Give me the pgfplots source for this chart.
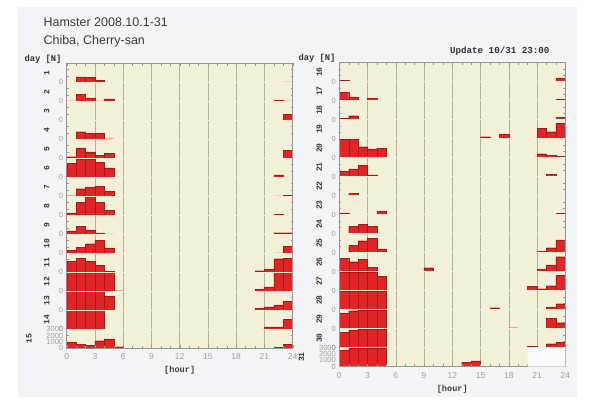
\documentclass[border=0pt]{standalone}
\usepackage{pgfplots}
\usepackage{pgfplotstable}
\pgfplotsset{compat=1.18}
\usepackage{fontspec}
\setmainfont{Liberation Sans}
\setmonofont{Liberation Mono}
\definecolor{cream}{RGB}{243,240,216}
\definecolor{panelbg}{RGB}{243,244,247}
\definecolor{barred}{RGB}{226,36,38}
\definecolor{baredge}{RGB}{165,25,25}
\definecolor{gridc}{RGB}{178,175,160}
\definecolor{framec}{RGB}{150,150,150}
\definecolor{tickc}{RGB}{160,160,160}
\definecolor{titlec}{RGB}{60,60,60}

\pgfplotstableread{
h  d1 d2 d3 d4 d5  d6 d7 d8 d9 d10  d11 d12 d13 d14 d15  d16 d17 d18 d19 d20  d21 d22 d23 d24 d25  d26 d27 d28 d29 d30  d31
0  0 50 0 0 250  2200 100 370 530 470  1770 3000 3000 3000 1000  260 1300 200 0 2870  800 100 290 50 60  2080 3000 3000 2430 2380  2600
1  850 1050 0 1200 1630  2800 1200 2050 1260 950  2180 3000 3000 3000 580  0 600 630 0 2870  1250 370 0 1180 1200  1580 3000 3000 2840 2820  3000
2  800 530 0 900 1000  2800 1370 2950 680 1520  1740 3000 3000 3000 470  40 30 40 80 1740  1820 40 40 1480 1900  1920 3000 3000 3000 3000  3000
3  300 50 0 900 420  2400 1580 2050 210 2050  1100 3000 3000 3000 1200  40 370 0 0 1400  280 0 100 1150 2280  710 3000 3000 3000 3000  3000
4  0 370 0 100 790  1470 790 740 50 840  150 2950 2280 0 1470  0 0 20 0 1470  50 0 550 60 600  0 2230 3000 3000 3000  3000
5  0 0 0 0 0  0 0 0 0 0  0 100 0 0 260  0 0 0 0 0  0 0 0 0 0  0 0 0 0 0  0
6  0 0 0 0 0  0 0 0 0 0  0 0 0 0 0  0 0 0 0 0  0 0 0 0 0  0 0 0 0 0  0
7  0 0 0 0 0  0 0 0 0 0  0 0 0 0 0  0 0 0 0 0  0 0 0 0 0  0 0 0 0 0  0
8  0 0 0 0 0  0 0 0 0 0  20 0 0 0 0  0 0 0 0 0  0 0 0 0 0  0 0 0 0 0  0
9  0 0 0 0 0  0 0 0 0 0  0 0 0 0 0  0 0 0 0 0  0 0 0 0 0  630 0 0 0 0  0
10  0 0 0 0 0  0 0 0 0 0  0 0 0 0 0  0 0 0 0 0  0 0 0 0 0  0 0 0 0 0  0
11  0 0 0 0 0  0 0 0 0 0  0 0 0 0 0  0 0 0 0 0  0 0 0 0 0  0 0 0 0 0  0
12  0 0 0 0 0  0 0 20 0 0  0 0 0 0 0  0 0 0 0 0  0 0 0 0 0  0 0 0 0 0  0
13  0 0 0 0 0  0 0 0 0 0  0 0 0 0 0  0 0 0 0 0  0 0 0 0 20  0 0 0 0 0  740
14  0 0 0 0 0  0 0 0 0 0  0 0 0 0 0  0 0 0 0 0  0 0 0 0 0  0 0 0 0 0  900
15  0 0 0 0 0  0 0 0 0 0  0 0 0 0 0  0 0 0 320 0  0 0 0 0 0  0 0 0 0 0  0
16  0 0 0 0 0  0 0 0 20 0  0 0 0 0 0  0 0 0 0 0  0 0 0 0 0  0 0 310 0 0  0
17  0 20 0 0 0  0 0 0 0 0  0 0 0 0 0  0 0 0 740 0  0 0 0 0 0  0 20 0 0 0  0
18  0 0 0 0 0  0 0 0 0 0  0 0 20 0 0  0 0 0 0 0  0 0 0 0 0  0 0 0 150 0  0
19  0 0 0 0 0  0 0 0 0 0  0 0 0 0 0  0 0 0 0 0  0 0 0 0 0  0 0 0 0 0  0
20  0 0 0 0 30  0 0 0 0 0  250 330 330 0 0  0 0 0 0 80  0 0 0 0 0  40 710 0 0 170  0
21  0 0 0 0 30  0 0 0 0 0  520 680 550 370 40  0 0 0 1650 630  0 0 0 30 210  400 320 80 100 40  0
22  0 200 30 0 30  380 50 120 250 60  2150 3000 840 370 150  50 40 40 1100 380  370 60 40 80 790  1080 790 370 1630 630  0
23  60 50 920 40 1230  40 150 40 250 1120  2200 3000 1420 1550 650  600 260 420 2420 180  0 60 200 0 2020  2370 2420 950 950 820  0
}\hamster

\pgfplotsset{
  base/.style={scale only axis, width=226pt, xmin=0, xmax=24,
    /pgf/number format/assume math mode=true},
  bgaxis/.style={base, ymin=0, ymax=1,
    axis background/.style={fill=cream},
    axis line style={draw=none},
    xtick={0,3,...,24}, xmajorgrids,
    major grid style={gridc, line width=0.5pt},
    ytick=\empty, major tick length=0pt,
    xticklabel style={font=\fontsize{8.5}{8.5}\selectfont, text=tickc, yshift=-2pt},
    xlabel={[hour]},
    xlabel style={font=\ttfamily\bfseries\fontsize{8.6}{9}\selectfont, text=black!75, yshift=0pt}},
  ovaxis/.style={base,
    axis line style={framec, line width=0.5pt},
    xtick={0,3,...,24}, minor xtick={0,1,...,24}, xticklabels={},
    ytick=\empty, tick align=inside, xtick pos=both,
    major tick length=3pt, minor tick length=2.5pt,
    every tick/.style={framec, line width=0.4pt}},
  rowaxis/.style={base, height=19pt, ymin=0, ymax=3000,
    axis line style={draw=none},
    xtick=\empty, ytick={0,1000,2000,3000}, yticklabels={0},
    ytick pos=both, yticklabel pos=left, tick align=inside,
    major tick length=2pt,
    every tick/.style={framec, line width=0.4pt},
    yticklabel style={font=\fontsize{7.5}{7.5}\selectfont, text=tickc},
    every axis y label/.style={at={(axis description cs:0,0.5)},
      xshift=-20pt, rotate=90, anchor=center,
      font=\ttfamily\bfseries\fontsize{8}{8}\selectfont, text=black!80}},
  lastrow/.style={yticklabels={0,1000,2000,3000},
    every axis y label/.style={at={(axis description cs:0,0.5)},
      xshift=-37.7pt, rotate=90, anchor=center,
      font=\ttfamily\bfseries\fontsize{8}{8}\selectfont, text=black!80}},
  rowextra/.style={},
}

\begin{document}
\begin{tikzpicture}
\path[use as bounding box] (0,0) rectangle (590pt,402pt);
\fill[white] (0,0) rectangle (590pt,402pt);
\fill[panelbg] (18pt,5pt) rectangle (577pt,395pt);

\node[anchor=base west, font=\fontsize{12.5}{13}\selectfont, text=titlec] at (40pt,375.5pt) {Hamster 2008.10.1-31};
\node[anchor=base west, font=\fontsize{12.5}{13}\selectfont, text=titlec] at (40pt,357.5pt) {Chiba, Cherry-san};
\node[anchor=base east, font=\ttfamily\bfseries\fontsize{9.2}{9.2}\selectfont, text=black!80] at (553pt,348pt) {Update 10/31 23:00};
\node[anchor=base east, font=\ttfamily\bfseries\fontsize{8.8}{8.8}\selectfont, text=black!80] at (65pt,340pt) {day [N]};
\node[anchor=base east, font=\ttfamily\bfseries\fontsize{8.8}{8.8}\selectfont, text=black!80] at (339pt,341pt) {day [N]};

% ---------- left panel ----------
\begin{axis}[bgaxis, height=285pt, at={(66.7pt,53.7pt)}, anchor=south west]
\end{axis}
\foreach \d in {15,14,...,1}{
  \pgfmathsetmacro\Y{53.7+19*(15-\d)}
  \ifnum\d=15 \pgfplotsset{rowextra/.style={lastrow}}\fi
  \begin{axis}[rowaxis, rowextra, at={(66.7pt,\Y pt)}, anchor=south west, ylabel={\d}]
    \addplot[ybar, bar width=1, fill=barred, draw=baredge, line width=0.3pt,
      y filter/.expression={y==0 ? nan : y}]
      table[x expr=\thisrow{h}+0.5, y=d\d] {\hamster};
    \addplot[draw=cream, line width=0.8pt] coordinates {(0,0) (24,0)};
  \end{axis}
}
\begin{axis}[ovaxis, height=285pt, ymin=0, ymax=15, at={(66.7pt,53.7pt)}, anchor=south west]
\end{axis}

% ---------- right panel ----------
\begin{axis}[bgaxis, height=304pt, at={(339.3pt,35.3pt)}, anchor=south west]
\end{axis}
\foreach \d in {31,30,...,16}{
  \pgfmathsetmacro\Y{35.3+19*(31-\d)}
  \ifnum\d=31 \pgfplotsset{rowextra/.style={lastrow}}\fi
  \begin{axis}[rowaxis, rowextra, at={(339.3pt,\Y pt)}, anchor=south west, ylabel={\d}]
    \addplot[ybar, bar width=1, fill=barred, draw=baredge, line width=0.3pt,
      y filter/.expression={y==0 ? nan : y}]
      table[x expr=\thisrow{h}+0.5, y=d\d] {\hamster};
    \addplot[draw=cream, line width=0.8pt] coordinates {(0,0) (24,0)};
  \end{axis}
}
\begin{axis}[ovaxis, height=304pt, ymin=0, ymax=16, at={(339.3pt,35.3pt)}, anchor=south west]
  \addplot[ybar, bar width=1, fill=white!96!gray, draw=none]
    coordinates {(20.5,1) (21.5,1) (22.5,1) (23.5,1)};
\end{axis}
\end{tikzpicture}
\end{document}
